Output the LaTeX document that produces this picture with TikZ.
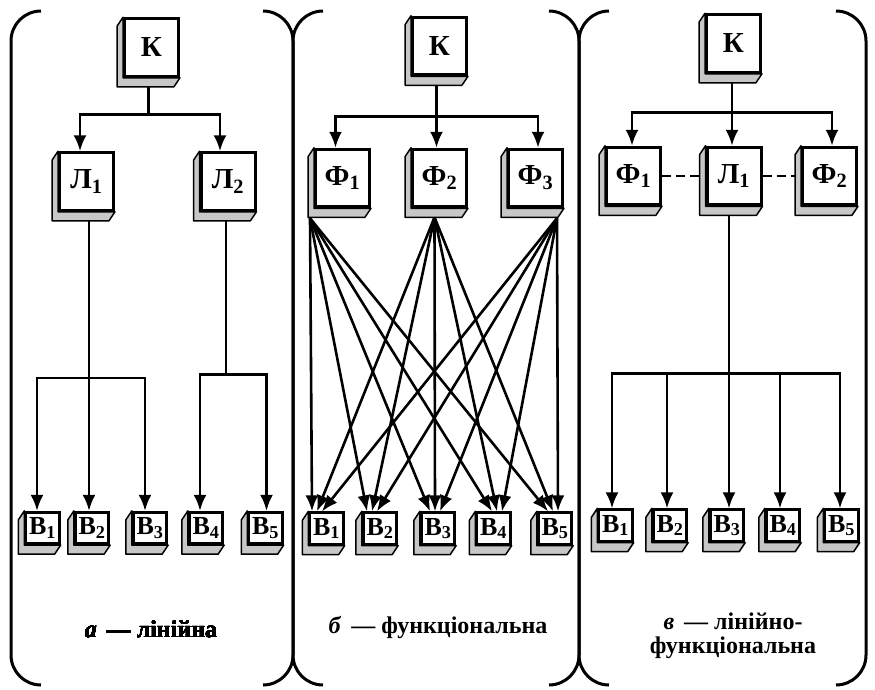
\documentclass[tikz,border=0pt]{standalone}
\usepackage{fontspec}
\setmainfont{Liberation Serif}
\usetikzlibrary{arrows.meta,calc,backgrounds}
\tikzset{
  bigbox/.style={draw, line width=3pt, fill=white, minimum width=54pt, minimum height=57.5pt, inner sep=0pt, font=\fontsize{29}{31}\selectfont\bfseries},
  smallbox/.style={draw, line width=2.8pt, fill=white, minimum width=33.5pt, minimum height=31.5pt, inner sep=0pt, font=\fontsize{26}{28}\selectfont\bfseries},
  extr/.style={fill=black!22, draw=black, line width=1.5pt, line join=round},
  conn/.style={line width=2.6pt},
  arr/.style={line width=2.6pt, -{Latex[length=16pt,width=13pt]}},
  dsh/.style={line width=2.8pt, dash pattern=on 9pt off 5pt},
  brk/.style={line width=3pt, rounded corners=30pt},
  lab/.style={font=\fontsize{24}{24}\selectfont\bfseries, inner sep=0pt, align=center},
}
\newcommand\boxext[1]{\filldraw[extr] (#1.north west) -- ($(#1.north west)+(-6,9)$) -- ($(#1.south west)+(-6,9)$) -- ($(#1.south east)+(-6,9)$) -- (#1.south east) -- (#1.south west) -- cycle;}
\begin{document}
\begin{tikzpicture}[x=1pt,y=-1pt]
\useasboundingbox (0,0) rectangle (875,689);
% brackets
\draw[brk] (41,11) -- (11,11) -- (11,685) -- (41,685);
\draw[brk] (263,11) -- (293,11) -- (293,685) -- (263,685);
\draw[brk] (323,11) -- (293,11) -- (293,685) -- (323,685);
\draw[brk] (549,11) -- (579,11) -- (579,685) -- (549,685);
\draw[brk] (609,11) -- (579,11) -- (579,685) -- (609,685);
\draw[brk] (836,11) -- (866,11) -- (866,685) -- (836,685);
% panel a nodes
\node[bigbox] (Ka) at (151.5,47.5) {К};
\node[bigbox] (La1) at (86.5,181.5) {Л\textsubscript{1}};
\node[bigbox] (La2) at (228,181.5) {Л\textsubscript{2}};
\foreach \i/\x in {1/42.5,2/92,3/150,4/206,5/265.5}
  \node[smallbox] (Ba\i) at (\x,528) {В\textsubscript{\i}};
% panel b nodes
\node[bigbox] (Kb) at (439.5,46) {К};
\node[bigbox] (Fb1) at (342.5,178) {Ф\textsubscript{1}};
\node[bigbox] (Fb2) at (439.5,178) {Ф\textsubscript{2}};
\node[bigbox] (Fb3) at (535.5,178) {Ф\textsubscript{3}};
\foreach \i/\x in {1/326.5,2/380,3/438,4/493.5,5/555}
  \node[smallbox] (Bb\i) at (\x,528.5) {В\textsubscript{\i}};
% panel c nodes
\node[bigbox] (Kc) at (733.5,43.5) {К};
\node[bigbox] (Fc1) at (633.5,176) {Ф\textsubscript{1}};
\node[bigbox] (Lc1) at (734,176) {Л\textsubscript{1}};
\node[bigbox] (Fc2) at (829.5,176) {Ф\textsubscript{2}};
\foreach \i/\x in {1/615.5,2/670,3/727,4/783,5/841.5}
  \node[smallbox] (Bc\i) at (\x,525.5) {В\textsubscript{\i}};
% extrusions
\foreach \n in {Ka,La1,La2,Ba1,Ba2,Ba3,Ba4,Ba5,Kb,Fb1,Fb2,Fb3,Bb1,Bb2,Bb3,Bb4,Bb5,Kc,Fc1,Lc1,Fc2,Bc1,Bc2,Bc3,Bc4,Bc5}
  \boxext{\n}
% labels
\node[lab] (la) at (151,629) {\textit{а}\, — лінійна};
\node[lab] (lb) at (438,627) {\textit{б}\, — функціональна};
\node[lab] (lc) at (733,636) {\textit{в}\, — лінійно-\\функціональна};
\begin{scope}[on background layer]
% panel a connectors
\draw[conn] ($(Ka.south)+(-3,9)$) -- ($(Ka.south)+(-3,37)$) coordinate (ja);
\draw[arr] (ja) -| ($(La1.north)+(-6.5,0)$);
\draw[arr] (ja) -| ($(La2.north)+(-8,0)$);
\draw[arr] ($(La1.south)+(2.5,9)$) -- ($(Ba2.north)+(-3,0)$);
\coordinate (ba) at ($(Ba2.north)+(-3,-133)$);
\draw[arr] (ba) -| ($(Ba1.north)+(-5.5,0)$);
\draw[arr] (ba) -| ($(Ba3.north)+(-5,0)$);
\draw[conn] ($(La2.south)+(-2,9)$) -- ($(La2.south)+(-2,163)$) coordinate (bb);
\draw[arr] (bb) -| ($(Ba4.north)+(-6,0)$);
\draw[arr] (bb) -| ($(Ba5.north)+(1,0)$);
% panel b connectors
\draw[conn] ($(Kb.south)+(-3,9)$) -- ($(Kb.south)+(-3,40)$) coordinate (jb);
\draw[arr] (jb) -| ($(Fb1.north)+(-7,0)$);
\draw[arr] (jb) -- ($(Fb2.north)+(-3,0)$);
\draw[arr] (jb) -| ($(Fb3.north)+(2.5,0)$);
\coordinate (s1) at ($(Fb1.south west)+(-4,10)$);
\coordinate (s2) at ($(Fb2.south)+(-5,9)$);
\coordinate (s3) at ($(Fb3.south east)+(-7,10)$);
\foreach \j/\s in {1/s1,2/s2,3/s3}
  \foreach \i/\dx in {1/-9.5,2/-8,3/-3,4/3.5,5/-2}
    \draw[arr] (\s) -- ($(Bb\i.north)+({\dx+(\j-2)*5},0)$);
% panel c connectors
\draw[conn] ($(Kc.south)+(-1.5,9)$) -- ($(Kc.south)+(-1.5,38.5)$) coordinate (jc);
\draw[arr] (jc) -| ($(Fc1.north)+(-1.5,0)$);
\draw[arr] (jc) -- ($(Lc1.north)+(-2,0)$);
\draw[arr] (jc) -| ($(Fc2.north)+(2.5,0)$);
\draw[dsh] (Fc1.east) -- (Lc1.west);
\draw[dsh] (Lc1.east) -- (Fc2.west);
\draw[arr] ($(Lc1.south)+(-5,9)$) -- ($(Bc3.north)+(2,0)$);
\coordinate (bc) at ($(Bc3.north)+(2,-135)$);
\draw[arr] (bc) -| ($(Bc1.north)+(-3.5,0)$);
\draw[arr] (bc) -| ($(Bc2.north)+(-3,0)$);
\draw[arr] (bc) -| ($(Bc4.north)+(-3,0)$);
\draw[arr] (bc) -| ($(Bc5.north)+(-1.5,0)$);
\end{scope}
\end{tikzpicture}
\end{document}
